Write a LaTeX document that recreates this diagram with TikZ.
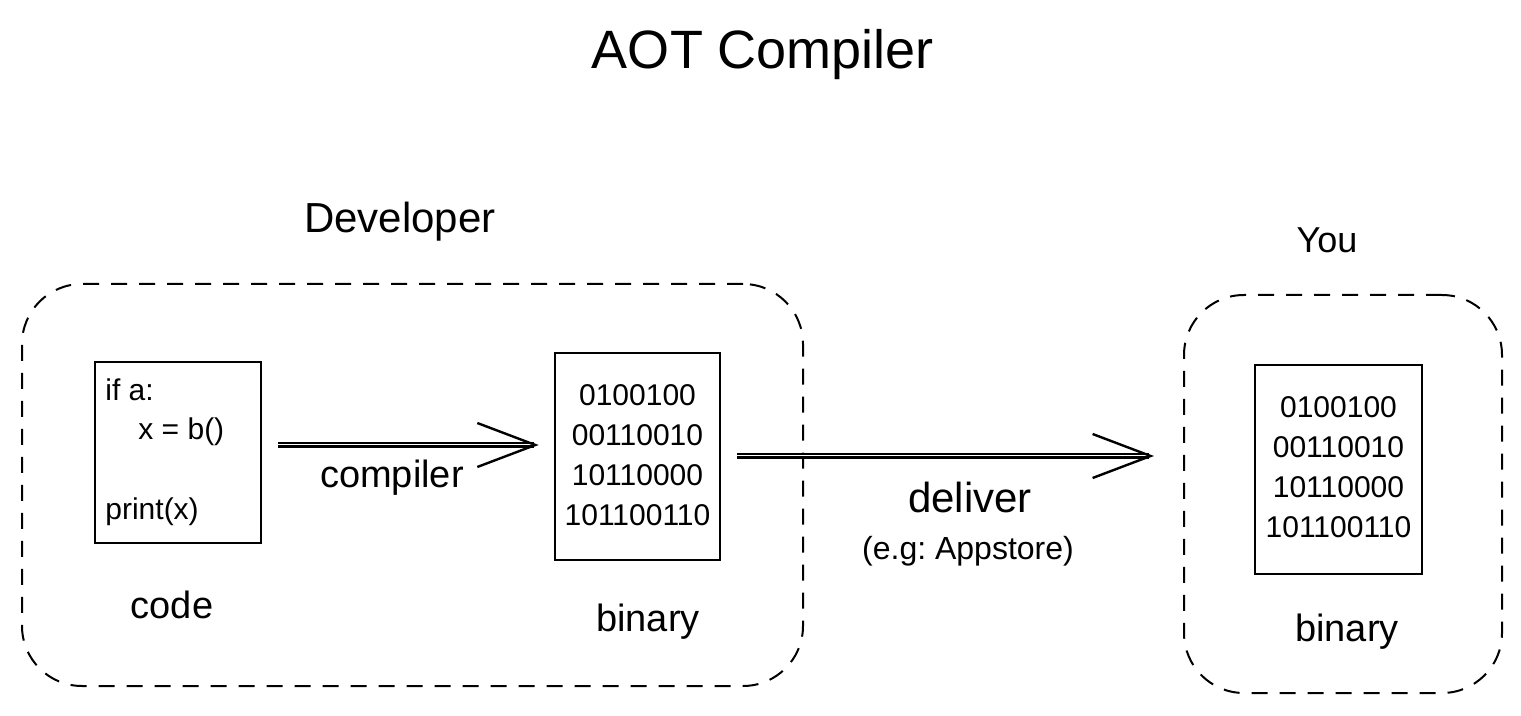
\documentclass[tikz,border=0pt]{standalone}
\usepackage{fontspec}
\setmainfont{Liberation Sans}
\usetikzlibrary{arrows.meta}
\frenchspacing
\tikzset{
  dashbox/.style={draw, line width=1pt, dash pattern=on 8pt off 6pt, rounded corners=30pt, inner sep=0pt},
  filebox/.style={draw, line width=1.3pt, inner sep=0pt},
  lbl/.style={inner sep=0pt, font=\fontsize{19}{22}\selectfont},
  codetxt/.style={inner sep=0pt, anchor=west, font=\fontsize{15}{18}\selectfont},
  bintxt/.style={inner sep=0pt, align=center, font=\fontsize{15}{20}\selectfont},
  arr/.style={line width=1.1pt, double distance=0.5pt, -{Straight Barb[length=29pt,width=22pt,line width=1.2pt]}}
}
\begin{document}
\begin{tikzpicture}[x=0.5pt,y=-0.5pt]
\useasboundingbox (0,0) rectangle (1521,716);
% title
\node[inner sep=0pt, font=\fontsize{27}{32}\selectfont] (title) at (763,55) {AOT Compiler};
\node[inner sep=0pt, font=\fontsize{21}{25}\selectfont] (dev) at (400,222) {Developer};
\node[inner sep=0pt, font=\fontsize{18}{22}\selectfont] (you) at (1327,240) {You};
% containers
\node[dashbox, minimum width=390.5pt, minimum height=201pt] (devbox) at (412.5,485) {};
\node[dashbox, minimum width=159pt, minimum height=199pt] (youbox) at (1343,494) {};
% code box
\node[filebox, minimum width=83pt, minimum height=90.5pt] (code) at (178,452.5) {};
\node[codetxt] (c1) at (105,390) {if a:};
\node[codetxt] (c2) at (138,432) {x = b()};
\node[codetxt] (c3) at (105,512) {print(x)};
\node[lbl] (codelbl) at (172,605) {code};
% binary 1
\node[filebox, minimum width=82.5pt, minimum height=103.5pt] (bin1) at (637.5,456.5) {};
\node[bintxt] (b1txt) at (637.5,455) {0100100\\00110010\\10110000\\101100110};
\node[lbl] (bin1lbl) at (648,622) {binary};
% binary 2
\node[filebox, minimum width=83.5pt, minimum height=104.5pt] (bin2) at (1338.5,469.5) {};
\node[bintxt] (b2txt) at (1338.5,467) {0100100\\00110010\\10110000\\101100110};
\node[lbl] (bin2lbl) at (1347,632) {binary};
% arrows
\draw[arr, shorten <=8pt, shorten >=7.5pt] (code.east |- 0,445) -- (bin1.west |- 0,445);
\node[lbl] (complbl) at (392,478) {compiler};
\draw[arr, shorten <=8pt, shorten >=14.5pt] (bin1.east |- 0,456) -- (youbox.west |- 0,456);
\node[inner sep=0pt, font=\fontsize{21}{25}\selectfont] (dellbl) at (970,497) {deliver};
\node[inner sep=0pt, font=\fontsize{16}{19}\selectfont] (eglbl) at (968,551) {(e.g: Appstore)};
\end{tikzpicture}
\end{document}
